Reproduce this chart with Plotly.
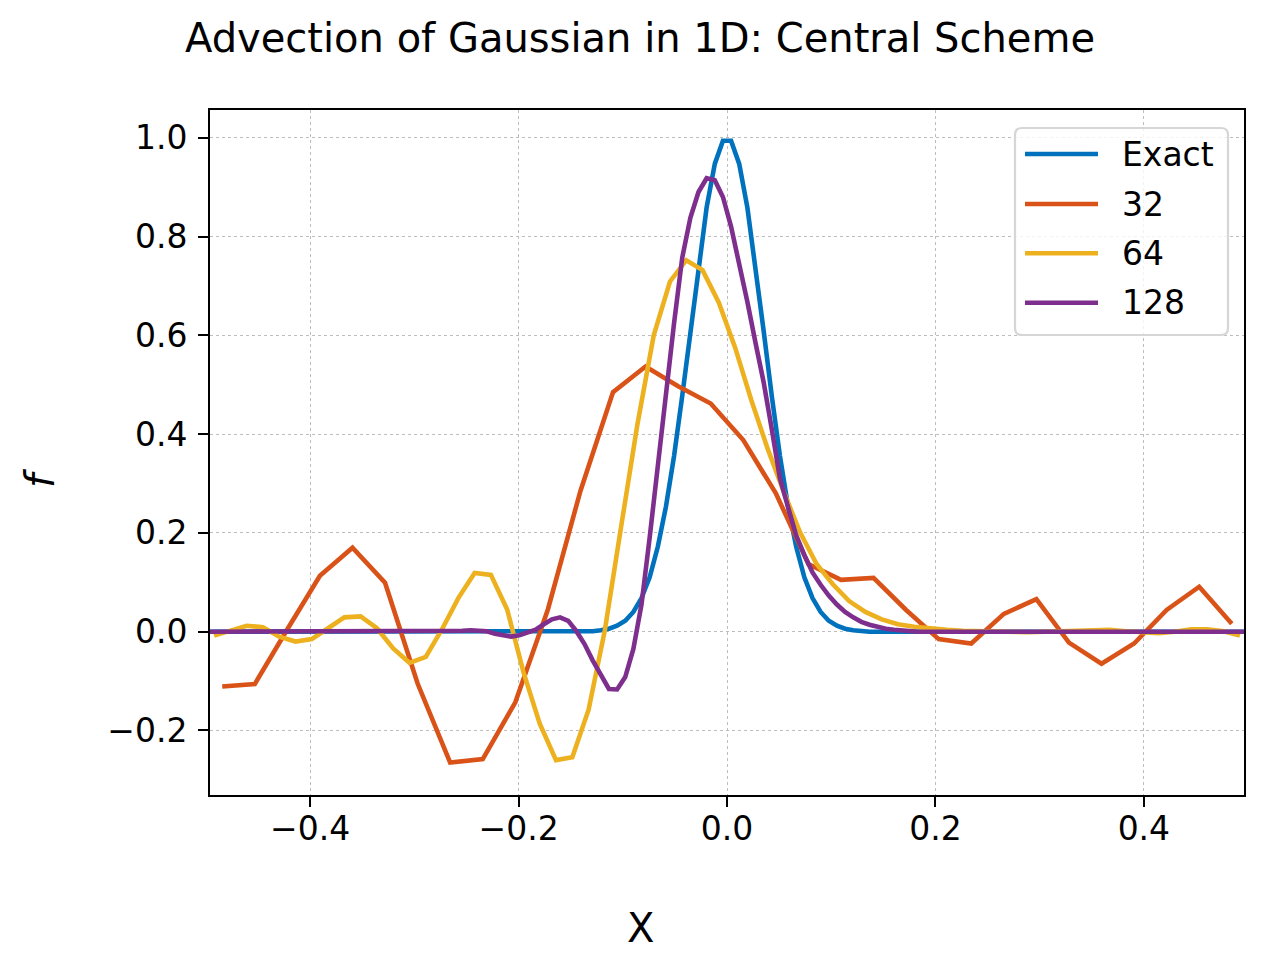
import numpy as np
import plotly.graph_objects as go

# ---------------- data ----------------
series_names = ["Exact", "32", "64", "128"]
grid_sizes = [128, 32, 64, 128]

exact_vals = ([0.0] * 47 +
              [0.001, 0.003, 0.006, 0.012, 0.022, 0.040, 0.068, 0.110, 0.172,
               0.253, 0.356, 0.477, 0.609, 0.742, 0.859, 0.947, 0.994, 0.994,
               0.947, 0.859, 0.742, 0.609, 0.477, 0.356, 0.253, 0.172, 0.110,
               0.068, 0.040, 0.022, 0.012, 0.006, 0.003, 0.001] +
              [0.0] * 47)

n32_vals = [-0.111, -0.106, 0.005, 0.113, 0.170, 0.099, -0.105, -0.265, -0.258, -0.143,
            0.045, 0.285, 0.485, 0.537, 0.497, 0.462, 0.388, 0.280, 0.137, 0.105,
            0.109, 0.044, -0.015, -0.024, 0.036, 0.066, -0.022, -0.065, -0.024, 0.044,
            0.091, 0.016]

n64_vals = [-0.008, 0.003, 0.012, 0.009, -0.010, -0.020, -0.015, 0.007, 0.029, 0.031,
            0.007, -0.034, -0.063, -0.051, 0.005, 0.068, 0.119, 0.115, 0.045, -0.082,
            -0.186, -0.260, -0.254, -0.158, 0.003, 0.213, 0.420, 0.600, 0.709, 0.752,
            0.732, 0.666, 0.575, 0.468, 0.370, 0.282, 0.200, 0.137, 0.096, 0.062,
            0.040, 0.025, 0.015, 0.010, 0.006, 0.004, 0.002, 0.001, 0.000, -0.001,
            -0.001, 0.000, 0.001, 0.003, 0.004, 0.004, 0.001, -0.002, -0.003, 0.000,
            0.005, 0.005, 0.001, -0.008]

n128_vals = ([0.0] * 30 +
             [0.001, 0.002, 0.003, 0.003, 0.001, -0.004, -0.008, -0.010, -0.007, -0.001,
              0.004, 0.015, 0.025, 0.029, 0.022, 0.001, -0.025, -0.058, -0.088, -0.116,
              -0.117, -0.092, -0.035, 0.055, 0.190, 0.340, 0.493, 0.625, 0.757, 0.838,
              0.890, 0.918, 0.914, 0.880, 0.820, 0.746, 0.668, 0.585, 0.505, 0.410,
              0.310, 0.252, 0.195, 0.155, 0.120, 0.095, 0.073, 0.055, 0.040, 0.029,
              0.020, 0.014, 0.009, 0.006, 0.004, 0.002, 0.001] +
             [0.0] * 41)

x_tick_vals = [-0.4, -0.2, 0.0, 0.2, 0.4]
x_tick_text = ["\u22120.4", "\u22120.2", "0.0", "0.2", "0.4"]
y_tick_vals = [-0.2, 0.0, 0.2, 0.4, 0.6, 0.8, 1.0]
y_tick_text = ["\u22120.2", "0.0", "0.2", "0.4", "0.6", "0.8", "1.0"]

# ---------------- styling / layout ----------------
colors = ["#0072BD", "#D95319", "#EDB120", "#7E2F8E"]
FONT = "DejaVu Sans"

# the page adds an 8 px body margin, so the figure is 8 px smaller
FIG_W, FIG_H = 1272, 952
PL, PR, PT, PB = 202, 36, 102, 165          # plot area 210..1244 x 110..795 on page
PW = FIG_W - PL - PR
PH = FIG_H - PT - PB


def px2paper_x(px_page):
    return (px_page - 8 - PL) / PW


def px2paper_y(py_page):
    return (FIG_H - PB - (py_page - 8)) / PH


def cell_centers(n):
    return -0.5 + (np.arange(n) + 0.5) / n


fig = go.Figure()
for name, n, vals, col in zip(series_names, grid_sizes,
                              [exact_vals, n32_vals, n64_vals, n128_vals], colors):
    fig.add_trace(go.Scatter(x=cell_centers(n), y=vals, mode="lines", name=name,
                             line=dict(color=col, width=4.6), showlegend=False))

xmin = float(cell_centers(128)[0])
xmax = float(cell_centers(128)[-1])

axis_common = dict(
    showline=True, mirror=True, linecolor="black", linewidth=2,
    ticks="outside", ticklen=10, tickwidth=2, tickcolor="black",
    showgrid=True, gridcolor="#bdbdbd", griddash="dot", gridwidth=1,
    zeroline=False, tickfont=dict(family=FONT, size=33, color="black"),
)

fig.update_layout(
    width=FIG_W, height=FIG_H,
    margin=dict(l=PL, r=PR, t=PT, b=PB),
    paper_bgcolor="white", plot_bgcolor="white",
    font=dict(family=FONT, color="black"),
    title=dict(text="Advection of Gaussian in 1D: Central Scheme",
               x=(640 - 8) / FIG_W, xref="container", xanchor="center",
               y=1 - (38 - 8) / FIG_H, yref="container", yanchor="middle",
               font=dict(family=FONT, size=40, color="black")),
    xaxis=dict(range=[xmin, xmax], tickvals=x_tick_vals, ticktext=x_tick_text,
               ticklabelstandoff=-7, **axis_common),
    yaxis=dict(range=[-0.3306, 1.0561], tickvals=y_tick_vals, ticktext=y_tick_text,
               ticklabelstandoff=4, **axis_common),
    showlegend=False,
)

# axis labels (figure-centred, like supxlabel / supylabel)
fig.add_annotation(text="X", xref="paper", yref="paper",
                   x=px2paper_x(640), y=px2paper_y(928),
                   xanchor="center", yanchor="middle", showarrow=False,
                   font=dict(family=FONT, size=40, color="black"))
fig.add_annotation(text="<i>f</i>", xref="paper", yref="paper",
                   x=px2paper_x(40), y=px2paper_y(478),
                   xanchor="center", yanchor="middle", showarrow=False, textangle=-90,
                   font=dict(family=FONT, size=40, color="black"))

# legend box (rounded) drawn as shapes + text
bx0, bx1 = px2paper_x(1015), px2paper_x(1228)
by0, by1 = px2paper_y(335), px2paper_y(128)
rx, ry = 7 / PW, 7 / PH
path = (f"M{bx0+rx},{by0} L{bx1-rx},{by0} Q{bx1},{by0} {bx1},{by0+ry} "
        f"L{bx1},{by1-ry} Q{bx1},{by1} {bx1-rx},{by1} "
        f"L{bx0+rx},{by1} Q{bx0},{by1} {bx0},{by1-ry} "
        f"L{bx0},{by0+ry} Q{bx0},{by0} {bx0+rx},{by0} Z")
fig.add_shape(type="path", path=path, xref="paper", yref="paper",
              fillcolor="rgba(255,255,255,0.8)", line=dict(color="#d6d6d6", width=2.2),
              layer="above")
row_y = [154, 204, 253.3, 302.7]
for name, col, ry_px in zip(series_names, colors, row_y):
    yy = px2paper_y(ry_px)
    fig.add_shape(type="line", xref="paper", yref="paper",
                  x0=px2paper_x(1025), x1=px2paper_x(1098), y0=yy, y1=yy,
                  line=dict(color=col, width=4.6), layer="above")
    fig.add_annotation(text=name, xref="paper", yref="paper",
                       x=px2paper_x(1121), y=yy, xanchor="left", yanchor="middle",
                       showarrow=False, borderpad=0,
                       font=dict(family=FONT, size=33, color="black"))

fig.write_html("out.html")
